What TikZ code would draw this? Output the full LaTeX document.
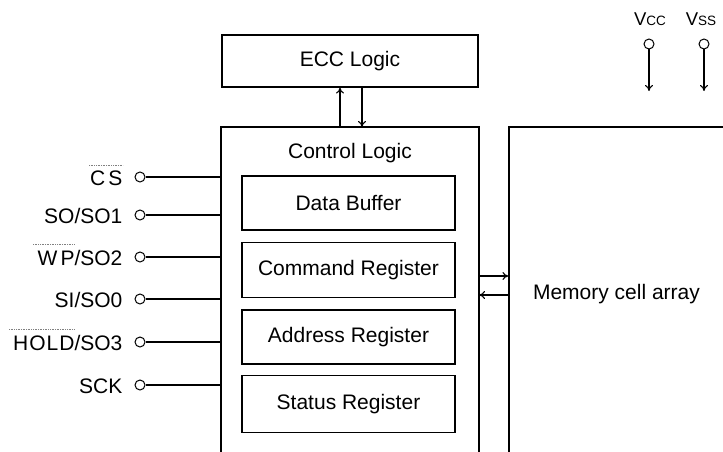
\documentclass[tikz,border=0pt]{standalone}
\usepackage{fontspec}
\setmainfont{Liberation Sans}
\usetikzlibrary{arrows.meta}
\begin{document}
\begin{tikzpicture}[x=1pt,y=-1pt,
  line width=1.2pt,
  every node/.style={font=\fontsize{21}{24}\selectfont},
  box/.style={draw, inner sep=0pt},
  pin/.style={draw, circle, inner sep=0pt, minimum size=10pt, line width=1pt},
  lbl/.style={anchor=east, inner sep=0pt},
  bar/.style={gray, densely dotted, line width=0.7pt},
  arr/.style={-{To[length=6pt,width=8pt]}, line width=1.1pt}]
\useasboundingbox (0,0) rectangle (723,452);
\clip (0,0) rectangle (723,452);
% main blocks
\node[box, minimum width=256pt, minimum height=52pt] (ecc) at (350,61) {ECC Logic};
\node[box, minimum width=258pt, minimum height=360pt] (ctrl) at (350,307) {};
\node[inner sep=0pt] (ctrltxt) at (350,153) {Control Logic};
\node[box, minimum width=240pt, minimum height=360pt] (mem) at (629,307) {};
\node[inner sep=0pt] (memtxt) at (616.5,294) {Memory cell array};
% inner registers
\node[box, minimum width=213pt, minimum height=54pt] (db) at (348.5,203) {Data Buffer};
\node[box, minimum width=213pt, minimum height=55pt] (cr) at (348.5,270) {Command Register};
\node[box, minimum width=213pt, minimum height=54pt] (ar) at (348.5,337) {Address Register};
\node[box, minimum width=213pt, minimum height=57pt] (sr) at (348.5,404) {Status Register};
% ECC arrows
\coordinate (eu1) at (340,127);
\coordinate (ed1) at (362,127);
\draw[arr] (eu1) -- (eu1 |- ecc.south);
\draw[arr] (ed1 |- ecc.south) -- (ed1);
% ctrl <-> mem
\coordinate (m1) at (479,276);
\coordinate (m2) at (479,295);
\draw[arr] (m1) -- (m1 -| mem.west);
\draw[arr] (m2 -| mem.west) -- (m2);
% pins
\node[pin] (p1) at (140,177) {};
\node[pin] (p2) at (140,215) {};
\node[pin] (p3) at (140,257) {};
\node[pin] (p4) at (140,299) {};
\node[pin] (p5) at (140,342) {};
\node[pin] (p6) at (140,385) {};
\node[lbl] (l1) at (123,178) {C\kern3pt S};
\node[lbl] (l2) at (123,216) {SO/SO1};
\node[lbl] (l3) at (123,258) {W\kern3pt P/SO2};
\node[lbl] (l4) at (123,300) {SI/SO0};
\node[lbl] (l5) at (123,343) {H\kern1pt O\kern1pt L\kern1pt D/SO3};
\node[lbl] (l6) at (123,386) {SCK};
\foreach \p in {p1,p2,p3,p4,p5,p6}
  \draw (\p.east) -- (\p.east -| ctrl.west);
% overbars
\draw[bar] (89,165) -- (123,165);
\draw[bar] (33,244) -- (75,244);
\draw[bar] (9,329) -- (75,329);
% power pins
\node[anchor=base, inner sep=0pt, font=\fontsize{18.5}{20}\selectfont] (vcc) at (650,26) {V{\fontsize{13.5}{14}\selectfont CC}};
\node[anchor=base, inner sep=0pt, font=\fontsize{18.5}{20}\selectfont] (vss) at (701,26) {V{\fontsize{13.5}{14}\selectfont SS}};
\node[pin] (pv1) at (649,44) {};
\node[pin] (pv2) at (704,44) {};
\coordinate (av1) at (649,91);
\coordinate (av2) at (704,91);
\draw[arr] (pv1.south) -- (av1);
\draw[arr] (pv2.south) -- (av2);
\end{tikzpicture}
\end{document}
